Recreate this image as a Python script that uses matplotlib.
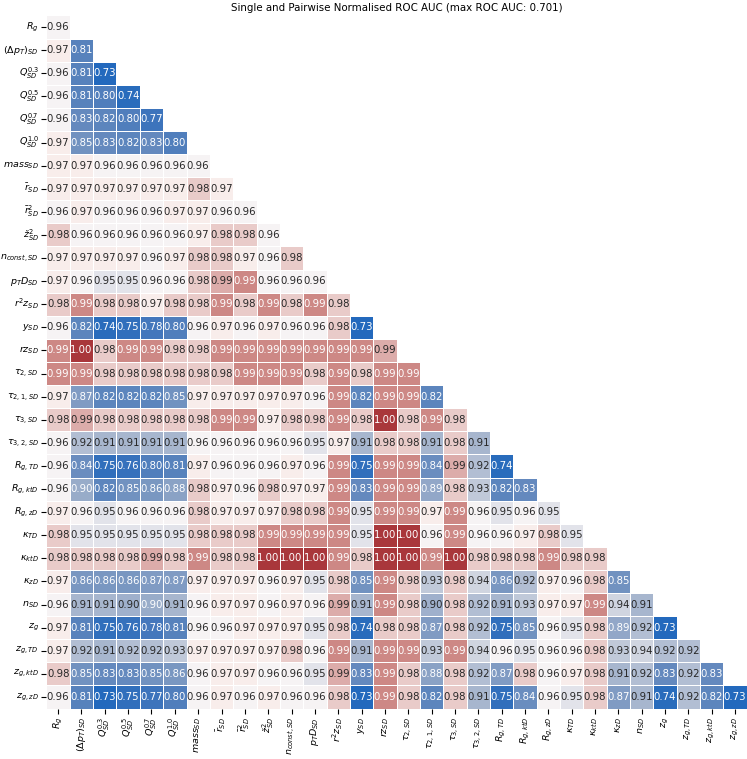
import numpy as np
import matplotlib
matplotlib.use("Agg")
import matplotlib.pyplot as plt
import seaborn as sns
from matplotlib.colors import TwoSlopeNorm

labels = [r"$R_g$", r"$(\Delta p_T)_{SD}$", r"$Q^{0.3}_{SD}$", r"$Q^{0.5}_{SD}$",
          r"$Q^{0.7}_{SD}$", r"$Q^{1.0}_{SD}$", r"$mass_{SD}$", r"$\bar{r}_{SD}$",
          r"$\bar{r}^2_{SD}$", r"$ž^2_{SD}$", r"$n_{const,SD}$", r"$p_TD_{SD}$",
          r"$r^2z_{SD}$", r"$y_{SD}$", r"$rz_{SD}$", r"$\tau_{2,SD}$", r"$\tau_{2,1,SD}$",
          r"$\tau_{3,SD}$", r"$\tau_{3,2,SD}$", r"$R_{g,TD}$", r"$R_{g,ktD}$",
          r"$R_{g,zD}$", r"$\kappa_{TD}$", r"$\kappa_{ktD}$", r"$\kappa_{zD}$",
          r"$n_{SD}$", r"$z_g$", r"$z_{g,TD}$", r"$z_{g,ktD}$", r"$z_{g,zD}$"]

max_auc = 0.701

# lower triangle (diagonal = single variable), row by row.
# third decimal is a guess from the cell shading (0.987 / 0.993 -> "0.99")
auc_rows = [
    [0.96],
    [0.97, 0.81],
    [0.96, 0.81, 0.73],
    [0.96, 0.81, 0.80, 0.74],
    [0.96, 0.83, 0.82, 0.80, 0.77],
    [0.97, 0.85, 0.83, 0.82, 0.83, 0.80],
    [0.97, 0.97, 0.96, 0.96, 0.96, 0.96, 0.96],
    [0.97, 0.97, 0.97, 0.97, 0.97, 0.97, 0.98, 0.97],
    [0.96, 0.97, 0.96, 0.96, 0.96, 0.97, 0.97, 0.96, 0.96],
    [0.98, 0.96, 0.96, 0.96, 0.96, 0.96, 0.97, 0.98, 0.98, 0.96],
    [0.97, 0.97, 0.97, 0.97, 0.96, 0.97, 0.98, 0.98, 0.97, 0.96, 0.98],
    [0.97, 0.96, 0.95, 0.95, 0.96, 0.96, 0.98, 0.987, 0.993, 0.96, 0.96, 0.96],
    [0.98, 0.993, 0.98, 0.98, 0.97, 0.98, 0.98, 0.993, 0.98, 0.993, 0.98, 0.993, 0.98],
    [0.96, 0.82, 0.74, 0.75, 0.78, 0.80, 0.96, 0.97, 0.96, 0.97, 0.96, 0.96, 0.98, 0.73],
    [0.993, 1.00, 0.98, 0.993, 0.993, 0.98, 0.98, 0.993, 0.993, 0.993, 0.993, 0.993, 0.993,
     0.993, 0.987],
    [0.993, 0.993, 0.98, 0.98, 0.98, 0.98, 0.98, 0.98, 0.993, 0.993, 0.993, 0.98, 0.993, 0.98,
     0.993, 0.993],
    [0.97, 0.87, 0.82, 0.82, 0.82, 0.85, 0.97, 0.97, 0.97, 0.97, 0.97, 0.96, 0.993, 0.82,
     0.993, 0.993, 0.82],
    [0.98, 0.987, 0.98, 0.98, 0.98, 0.98, 0.98, 0.993, 0.993, 0.97, 0.98, 0.98, 0.993, 0.98,
     1.00, 0.98, 0.993, 0.98],
    [0.96, 0.92, 0.91, 0.91, 0.91, 0.91, 0.96, 0.96, 0.96, 0.96, 0.96, 0.95, 0.97, 0.91, 0.98,
     0.98, 0.91, 0.98, 0.91],
    [0.96, 0.84, 0.75, 0.76, 0.80, 0.81, 0.97, 0.96, 0.96, 0.96, 0.97, 0.96, 0.993, 0.75,
     0.993, 0.993, 0.84, 0.987, 0.92, 0.74],
    [0.96, 0.897, 0.82, 0.85, 0.86, 0.88, 0.98, 0.97, 0.96, 0.98, 0.97, 0.97, 0.993, 0.83,
     0.993, 0.993, 0.89, 0.98, 0.93, 0.82, 0.83],
    [0.97, 0.96, 0.95, 0.96, 0.96, 0.96, 0.98, 0.97, 0.97, 0.97, 0.98, 0.98, 0.993, 0.95,
     0.993, 0.993, 0.97, 0.993, 0.96, 0.95, 0.96, 0.95],
    [0.98, 0.95, 0.95, 0.95, 0.95, 0.95, 0.98, 0.98, 0.98, 0.993, 0.993, 0.993, 0.993, 0.95,
     1.00, 1.00, 0.96, 0.993, 0.96, 0.96, 0.97, 0.98, 0.95],
    [0.98, 0.98, 0.98, 0.98, 0.987, 0.98, 0.993, 0.98, 0.98, 1.00, 1.00, 1.00, 0.993, 0.98,
     1.00, 1.00, 0.993, 1.00, 0.98, 0.98, 0.98, 0.993, 0.98, 0.98],
    [0.97, 0.86, 0.86, 0.86, 0.87, 0.87, 0.97, 0.97, 0.97, 0.96, 0.97, 0.95, 0.98, 0.85,
     0.993, 0.98, 0.93, 0.98, 0.94, 0.86, 0.92, 0.97, 0.96, 0.98, 0.85],
    [0.96, 0.91, 0.91, 0.903, 0.897, 0.91, 0.96, 0.97, 0.97, 0.96, 0.97, 0.96, 0.987, 0.91,
     0.993, 0.98, 0.903, 0.98, 0.92, 0.91, 0.93, 0.97, 0.97, 0.993, 0.94, 0.91],
    [0.97, 0.81, 0.75, 0.76, 0.78, 0.81, 0.96, 0.96, 0.97, 0.97, 0.97, 0.95, 0.98, 0.74, 0.98,
     0.98, 0.87, 0.98, 0.92, 0.75, 0.85, 0.96, 0.95, 0.98, 0.89, 0.92, 0.73],
    [0.97, 0.92, 0.91, 0.92, 0.92, 0.93, 0.97, 0.97, 0.97, 0.97, 0.98, 0.96, 0.993, 0.91,
     0.993, 0.993, 0.93, 0.993, 0.94, 0.96, 0.95, 0.96, 0.96, 0.98, 0.93, 0.94, 0.92, 0.92],
    [0.98, 0.85, 0.83, 0.83, 0.85, 0.86, 0.96, 0.97, 0.97, 0.96, 0.96, 0.95, 0.987, 0.83,
     0.993, 0.98, 0.88, 0.98, 0.92, 0.87, 0.98, 0.96, 0.97, 0.98, 0.91, 0.92, 0.83, 0.92,
     0.83],
    [0.96, 0.81, 0.73, 0.75, 0.77, 0.80, 0.96, 0.97, 0.96, 0.97, 0.96, 0.96, 0.98, 0.73,
     0.993, 0.98, 0.82, 0.98, 0.91, 0.75, 0.84, 0.96, 0.95, 0.98, 0.87, 0.91, 0.74, 0.92,
     0.82, 0.73],
]

n = len(labels)
auc = np.full((n, n), np.nan)
for i, row in enumerate(auc_rows):
    auc[i, :len(row)] = row
mask = np.triu(np.ones((n, n), dtype=bool), k=1)

# colour on a log scale of (1 - AUC), white around 0.964
eps = 0.005
shade = -np.log(1.0 - auc + eps)
norm = TwoSlopeNorm(vmin=np.nanmin(shade), vcenter=-np.log(1.0 - 0.964 + eps),
                    vmax=np.nanmax(shade))

plt.rcParams['font.size'] = 7.2

fig = plt.figure(figsize=(7.47, 7.59), dpi=100)
ax = fig.add_axes([0.0622, 0.0665, 0.9374, 0.9131])

sns.heatmap(shade, mask=mask, cmap='vlag', norm=norm, annot=auc, fmt='.2f',
            annot_kws={'fontsize': 7.3},
            linewidths=0.5, linecolor='white', cbar=False,
            xticklabels=labels, yticklabels=labels, ax=ax)

ax.tick_params(axis='x', rotation=90, labelsize=6.8, pad=2.5)
ax.tick_params(axis='y', rotation=0, labelsize=6.8, pad=2)
ax.set_title(f'Single and Pairwise Normalised ROC AUC (max ROC AUC: {max_auc})',
             fontsize=7.4, pad=3)

fig.savefig('out.png', dpi=100)
